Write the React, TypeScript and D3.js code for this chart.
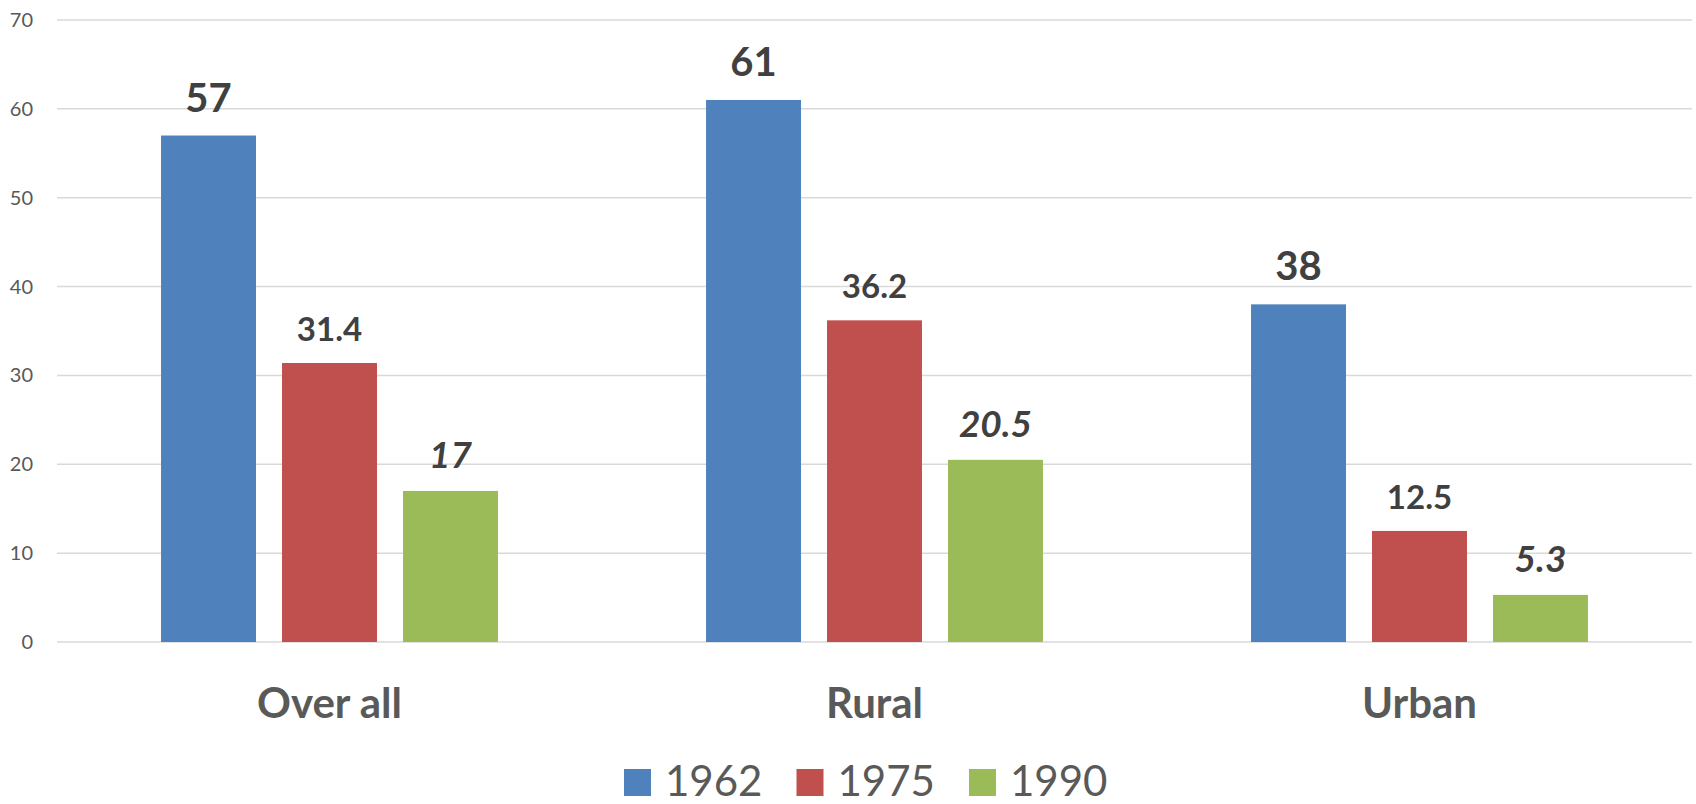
import React from 'react';
import * as d3 from 'd3';

const categories = ['Over all', 'Rural', 'Urban'];
const seriesNames = ['1962', '1975', '1990'];
const values1962 = [57, 61, 38];
const values1975 = [31.4, 36.2, 12.5];
const values1990 = [17, 20.5, 5.3];
const yTicks = [0, 10, 20, 30, 40, 50, 60, 70];

const colors = ['#4F81BD', '#C0504D', '#9BBB59'];
// label look per series (the original chart styles each series differently)
const labelStyles = [
  { size: 40, italic: false, gap: 24 },
  { size: 33, italic: false, gap: 22 },
  { size: 37, italic: true, gap: 23 },
];

const W = 1696;
const H = 804;
const dms = { left: 57, right: 1692, top: 20, bottom: 642 };
const font = 'Lato, "Open Sans", sans-serif';

const App = () => {
  const series = [values1962, values1975, values1990];

  const x0 = d3.scaleBand()
    .domain(categories)
    .range([dms.left, dms.right])
    .padding(0);

  const x1 = d3.scaleBand()
    .domain(seriesNames)
    .range([0, x0.bandwidth()])
    .paddingInner(0.215)
    .paddingOuter(0.86);

  const y = d3.scaleLinear()
    .domain([0, 70])
    .range([dms.bottom, dms.top]);

  const legendX = d3.scalePoint()
    .domain(seriesNames)
    .range([624, 969]);

  return (
    <svg
      width={W}
      height={H}
      style={{ position: 'absolute', left: 0, top: 0, background: '#fff' }}
      fontFamily={font}
    >
      {yTicks.map((t) => (
        <g key={t}>
          <line x1={dms.left} x2={dms.right} y1={y(t)} y2={y(t)} stroke="#d9d9d9" strokeWidth={1.5} />
          <text x={33} y={y(t)} dy="0.35em" textAnchor="end" fontSize={20} fill="#595959">{t}</text>
        </g>
      ))}

      {categories.map((c, ci) => (
        <g key={c} transform={`translate(${x0(c)}, 0)`}>
          {seriesNames.map((s, si) => {
            const v = series[si][ci];
            const bx = x1(s) as number;
            const st = labelStyles[si];
            return (
              <g key={s}>
                <rect x={bx} y={y(v)} width={x1.bandwidth()} height={y(0) - y(v)} fill={colors[si]} />
                <text
                  x={bx + x1.bandwidth() / 2}
                  y={y(v) - st.gap}
                  textAnchor="middle"
                  fontSize={st.size}
                  fontWeight="bold"
                  fontStyle={st.italic ? 'italic' : 'normal'}
                  fill="#404040"
                >
                  {v}
                </text>
              </g>
            );
          })}
          <text
            x={x0.bandwidth() / 2}
            y={718}
            textAnchor="middle"
            fontSize={42}
            fontWeight="bold"
            fill="#595959"
          >
            {c}
          </text>
        </g>
      ))}

      {seriesNames.map((s, si) => (
        <g key={s} transform={`translate(${legendX(s)}, 769)`}>
          <rect x={0} y={0} width={27} height={27} fill={colors[si]} />
          <text x={41} y={27} fontSize={42} fill="#595959">{s}</text>
        </g>
      ))}
    </svg>
  );
};

export default App;
